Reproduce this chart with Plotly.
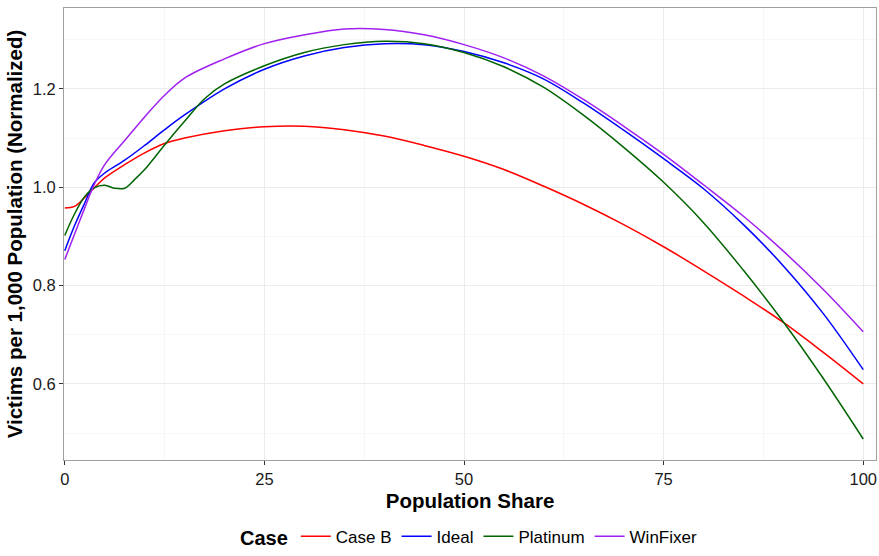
import plotly.graph_objects as go

# ---- data ----
xs_common = [0, 1.2, 2.5, 3.7, 5, 7.5, 10, 12.5, 15, 20, 25, 30, 35, 40, 45, 50,
             55, 60, 65, 70, 75, 80, 85, 90, 95, 100]

caseb_x = xs_common
caseb_y = [0.958, 0.961, 0.979, 0.999, 1.019, 1.046, 1.070, 1.089, 1.100, 1.115, 1.123, 1.124, 1.117,
           1.104, 1.085, 1.063, 1.036, 1.002, 0.965, 0.924, 0.879, 0.830, 0.779, 0.725, 0.664, 0.600]

ideal_x = xs_common
ideal_y = [0.871, 0.921, 0.968, 1.009, 1.029, 1.055, 1.085, 1.117, 1.147, 1.200, 1.240, 1.267, 1.284,
           1.292, 1.290, 1.276, 1.253, 1.220, 1.171, 1.116, 1.058, 0.997, 0.924, 0.840, 0.743, 0.629]

plat_x = [0, 1.2, 2.5, 3.7, 5, 6.2, 7.5, 8.7, 10, 12.5, 15, 17.5, 20, 25, 30, 35, 40, 45, 50,
          55, 60, 65, 70, 75, 80, 85, 90, 95, 100]
plat_y = [0.902, 0.945, 0.981, 0.999, 1.004, 0.998, 0.998, 1.015, 1.036, 1.086, 1.134, 1.180, 1.210,
          1.247, 1.274, 1.290, 1.297, 1.292, 1.274, 1.245, 1.203, 1.146, 1.081, 1.010, 0.928, 0.831,
          0.726, 0.611, 0.488]

winf_x = xs_common
winf_y = [0.853, 0.904, 0.958, 1.006, 1.046, 1.095, 1.143, 1.187, 1.222, 1.261, 1.292, 1.310, 1.322,
          1.321, 1.310, 1.290, 1.263, 1.226, 1.178, 1.124, 1.067, 1.005, 0.941, 0.870, 0.792, 0.706]

series = [
    ("Case B", caseb_x, caseb_y, "#ff0000"),
    ("Ideal", ideal_x, ideal_y, "#0000ff"),
    ("Platinum", plat_x, plat_y, "#006400"),
    ("WinFixer", winf_x, winf_y, "#a020f0"),
]

x_ticks = [0, 25, 50, 75, 100]
y_ticks = [0.6, 0.8, 1.0, 1.2]
y_tick_labels = ["0.6", "0.8", "1.0", "1.2"]

FONT = "Liberation Sans, Arial, Helvetica, sans-serif"

fig = go.Figure()
for name, xs, ys, col in series:
    fig.add_trace(go.Scatter(
        x=xs, y=ys, name=name, mode="lines",
        line=dict(color=col, width=1.5, shape="spline", smoothing=1.0),
    ))

fig.update_layout(
    width=879, height=556,
    margin=dict(l=64, r=3, t=8, b=95),
    paper_bgcolor="white", plot_bgcolor="white",
    font=dict(family=FONT, color="#000000", size=17),
    showlegend=True,
    legend=dict(
        orientation="h", x=0.5, xanchor="center", y=-0.207, yanchor="bottom",
        title=dict(text="<b>Case</b>", font=dict(size=20, family=FONT)),
        font=dict(size=17, family=FONT),
        itemwidth=30, tracegroupgap=0,
    ),
)

fig.update_xaxes(
    range=[-0.1, 101.6],
    tickvals=x_ticks, ticktext=[str(v) for v in x_ticks],
    ticks="outside", ticklen=4, tickcolor="#333333",
    tickfont=dict(size=16.5, color="#1a1a1a"),
    showgrid=True, gridcolor="#ebebeb", gridwidth=1,
    minor=dict(tickvals=[12.5, 37.5, 62.5, 87.5], showgrid=True, gridcolor="#f7f7f7", ticks=""),
    showline=True, linecolor="#a0a0a0", linewidth=1, mirror=True,
    zeroline=False,
    title=dict(text="<b>Population Share</b>", font=dict(size=20.5, family=FONT), standoff=6),
)
fig.update_yaxes(
    range=[0.4453, 1.3645],
    tickvals=y_ticks, ticktext=y_tick_labels,
    ticks="outside", ticklen=4, tickcolor="#333333",
    tickfont=dict(size=16.5, color="#1a1a1a"),
    showgrid=True, gridcolor="#ebebeb", gridwidth=1,
    minor=dict(tickvals=[0.5, 0.7, 0.9, 1.1, 1.3], showgrid=True, gridcolor="#f7f7f7", ticks=""),
    showline=True, linecolor="#a0a0a0", linewidth=1, mirror=True,
    zeroline=False,
    title=dict(text="<b>Victims per 1,000 Population (Normalized)</b>", font=dict(size=20.5, family=FONT),
               standoff=4),
)

fig.write_html("out.html")
